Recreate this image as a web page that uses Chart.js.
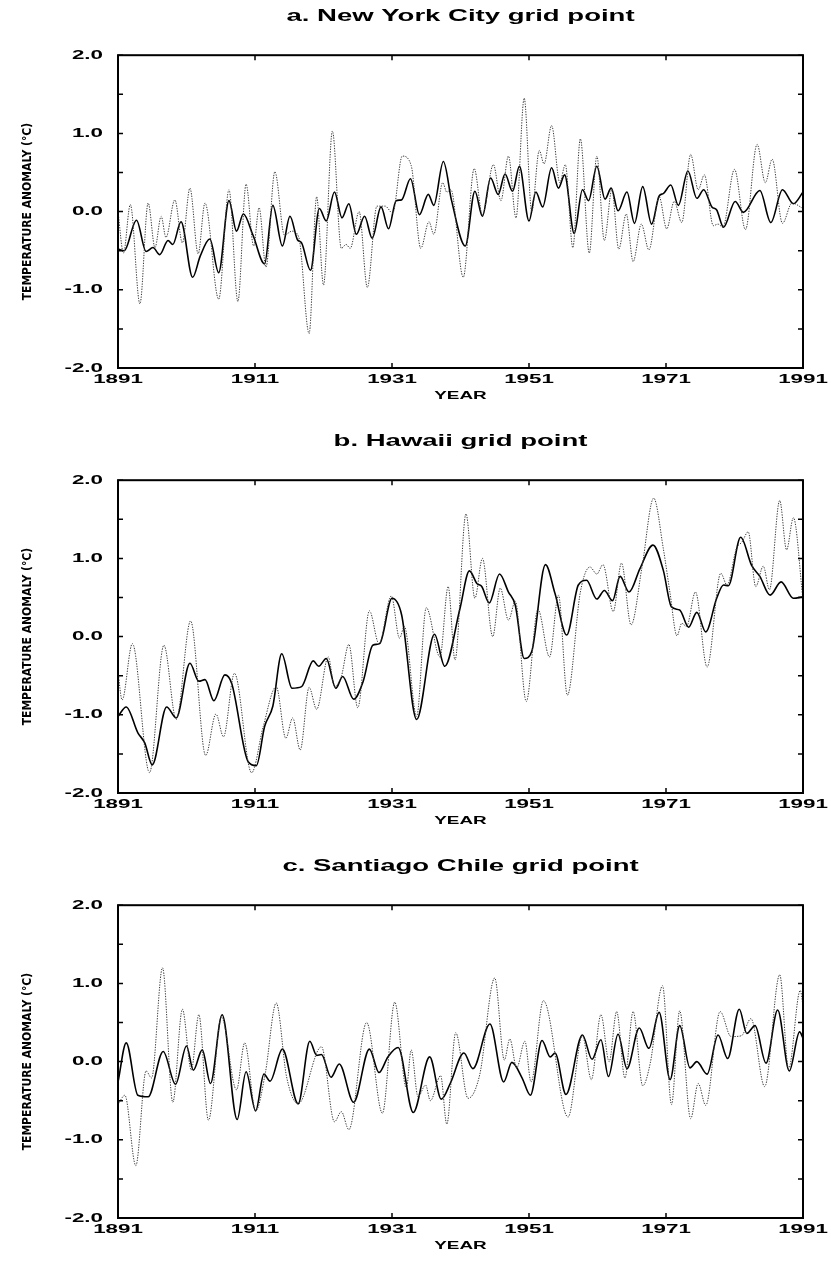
<!DOCTYPE html>
<html>
<head>
<meta charset="utf-8">
<title>Temperature anomaly grid points</title>
<script src="https://cdn.jsdelivr.net/npm/chart.js@4.4.1/dist/chart.umd.min.js"></script>
<style>
  html, body { margin: 0; padding: 0; background: #fff; overflow: hidden; }
  body { width: 831px; height: 1261px; position: relative; }
  .panel { position: absolute; left: 0; width: 831px; height: 425px; }
</style>
</head>
<body>
<div class="panel" style="top:0"><canvas id="chart-nyc" width="831" height="425"></canvas></div>
<div class="panel" style="top:425px"><canvas id="chart-hawaii" width="831" height="425"></canvas></div>
<div class="panel" style="top:850px"><canvas id="chart-santiago" width="831" height="425"></canvas></div>
<script>
// Axis ticks
const xTicks = [1891, 1911, 1931, 1951, 1971, 1991]
const yTicks = [-2, -1.5, -1, -0.5, 0, 0.5, 1, 1.5, 2]

// a. New York City - solid curve (turning points)
const nycSolidYears = [1891, 1891.9, 1893.7, 1895.1, 1896.1, 1897.1, 1898.3, 1899, 1900.2, 1901.9, 1903, 1904.4, 1905.7, 1907.2, 1908.3, 1909.3, 1910.7, 1912.4, 1913.6, 1915, 1916.1, 1917.2, 1917.8, 1919.1, 1920.4, 1921.4, 1922.6, 1923.7, 1924.7, 1925.8, 1927, 1928.1, 1929.4, 1930.5, 1931.6, 1932.4, 1933.7, 1935, 1936.3, 1937.1, 1938.5, 1939.7, 1941.7, 1943.1, 1944.2, 1945.4, 1946.5, 1947.5, 1948.6, 1949.6, 1951, 1952, 1953, 1954.3, 1955.3, 1956.2, 1957.6, 1958.8, 1959.7, 1960.9, 1962.1, 1963, 1964, 1965.3, 1966.4, 1967.6, 1968.9, 1970, 1970.6, 1971.7, 1972.8, 1974.2, 1975.5, 1976.5, 1977.7, 1978.4, 1979.4, 1981.1, 1982.3, 1984.7, 1986.3, 1988, 1989.6, 1991]
const nycSolidVals = [-0.48, -0.5, -0.11, -0.51, -0.46, -0.55, -0.37, -0.42, -0.13, -0.84, -0.57, -0.35, -0.78, 0.14, -0.25, -0.03, -0.3, -0.67, 0.08, -0.44, -0.06, -0.36, -0.4, -0.75, 0.04, -0.12, 0.25, -0.08, 0.1, -0.29, -0.06, -0.34, 0.06, -0.22, 0.14, 0.15, 0.42, -0.04, 0.22, 0.08, 0.64, 0.14, -0.44, 0.26, -0.06, 0.43, 0.22, 0.48, 0.26, 0.58, -0.12, 0.25, 0.06, 0.56, 0.3, 0.47, -0.28, 0.28, 0.14, 0.58, 0.16, 0.3, 0.01, 0.25, -0.15, 0.32, -0.16, 0.2, 0.23, 0.34, 0.08, 0.52, 0.17, 0.28, 0.06, 0.02, -0.2, 0.13, -0.01, 0.27, -0.14, 0.28, 0.1, 0.25]
// a. New York City - dotted curve
const nycDottedYears = [1891, 1891.8, 1892.8, 1894.2, 1895.4, 1896.4, 1897.3, 1898, 1899.3, 1900.4, 1901.5, 1902.7, 1903.7, 1905.7, 1907.2, 1908.5, 1909.7, 1910.8, 1911.6, 1912.6, 1913.9, 1915.3, 1916.4, 1917.4, 1918.9, 1920, 1921, 1922.3, 1923.6, 1924.3, 1924.9, 1926.2, 1927.4, 1928.8, 1930, 1931.1, 1932.5, 1933.8, 1935.2, 1936.4, 1937.1, 1938.4, 1939, 1939.6, 1941.4, 1943, 1944.2, 1945.8, 1946.9, 1948, 1949.1, 1950.3, 1951.4, 1952.5, 1953.2, 1954.3, 1955.5, 1956.3, 1957.4, 1958.5, 1959.8, 1960.9, 1962, 1963.1, 1964.1, 1965.2, 1966.2, 1967.4, 1968.5, 1970, 1971.1, 1972.2, 1973.3, 1974.6, 1975.7, 1976.6, 1977.9, 1978.6, 1979.3, 1981, 1982.6, 1984.3, 1985.5, 1986.5, 1988, 1989.4, 1991]
const nycDottedVals = [0.0, -0.53, 0.09, -1.18, 0.11, -0.46, -0.06, -0.33, 0.15, -0.4, 0.3, -0.54, 0.11, -1.12, 0.28, -1.15, 0.35, -0.44, 0.05, -0.71, 0.51, -0.3, -0.25, -0.33, -1.56, 0.19, -0.94, 1.03, -0.47, -0.42, -0.47, 0.0, -0.97, 0.07, 0.07, -0.02, 0.71, 0.59, -0.47, -0.13, -0.29, 0.37, 0.25, 0.28, -0.84, 0.55, -0.04, 0.6, 0.14, 0.71, -0.08, 1.45, 0.0, 0.78, 0.61, 1.1, 0.37, 0.6, -0.46, 0.93, -0.53, 0.71, -0.37, 0.28, -0.48, -0.03, -0.64, -0.16, -0.49, 0.19, -0.22, 0.13, -0.14, 0.73, 0.28, 0.47, -0.18, -0.16, -0.2, 0.54, -0.23, 0.86, 0.37, 0.67, -0.15, 0.11, 0.04]

// b. Hawaii - solid curve
const hawaiiSolidYears = [1891, 1892.2, 1893.9, 1894.9, 1896, 1898.1, 1899.5, 1901.5, 1902.8, 1903.7, 1905, 1906.6, 1907.6, 1910, 1911.2, 1912.4, 1913.6, 1914.9, 1916.4, 1917.8, 1919.5, 1920.3, 1921.4, 1922.8, 1923.8, 1925.4, 1926.8, 1928.2, 1929.2, 1931, 1932.4, 1934.6, 1937.2, 1938.7, 1940.9, 1942.3, 1943.4, 1944.1, 1945.2, 1946.7, 1948, 1949, 1950.3, 1951.4, 1953.4, 1954.8, 1956.5, 1958.2, 1959.4, 1960.9, 1962, 1963.2, 1964.3, 1965.6, 1967.2, 1969.1, 1970.6, 1971.8, 1973, 1974.3, 1975.5, 1976.8, 1978.4, 1979.4, 1980.1, 1981.9, 1983.5, 1984.7, 1986.2, 1987.8, 1989.6, 1991]
const hawaiiSolidVals = [-1.02, -0.9, -1.23, -1.36, -1.64, -0.9, -1.04, -0.34, -0.57, -0.55, -0.82, -0.49, -0.6, -1.6, -1.65, -1.15, -0.89, -0.22, -0.66, -0.64, -0.31, -0.38, -0.28, -0.66, -0.51, -0.8, -0.57, -0.11, -0.09, 0.49, 0.28, -1.06, 0.03, -0.38, 0.35, 0.84, 0.68, 0.64, 0.43, 0.8, 0.57, 0.4, -0.28, -0.19, 0.92, 0.55, 0.02, 0.66, 0.72, 0.48, 0.59, 0.46, 0.77, 0.57, 0.87, 1.17, 0.85, 0.38, 0.34, 0.12, 0.31, 0.06, 0.49, 0.66, 0.65, 1.27, 0.91, 0.77, 0.53, 0.7, 0.49, 0.51]
// b. Hawaii - dotted curve
const hawaiiDottedYears = [1891, 1891.6, 1893.1, 1895.6, 1897.7, 1899.5, 1901.6, 1903.8, 1905.3, 1906.4, 1908, 1910.5, 1912.2, 1914.1, 1915.5, 1916.5, 1917.6, 1918.9, 1920, 1921.7, 1922.6, 1923.6, 1924.7, 1926, 1927.7, 1929.1, 1930.9, 1932.1, 1932.8, 1934.6, 1936, 1938, 1939.2, 1940.2, 1941.8, 1943.1, 1944.2, 1945.7, 1946.8, 1948, 1949, 1950.6, 1952.3, 1954, 1955.3, 1956.6, 1958.5, 1959.9, 1960.9, 1961.8, 1963.3, 1964.5, 1965.9, 1967.5, 1969.2, 1970.6, 1971.6, 1972.6, 1973.3, 1974, 1975.3, 1977, 1979, 1979.9, 1981.3, 1982.1, 1983, 1984.1, 1985.2, 1986.1, 1987.6, 1988.6, 1989.6, 1991]
const hawaiiDottedVals = [-0.45, -0.81, -0.09, -1.74, -0.11, -1.06, 0.2, -1.52, -0.99, -1.28, -0.47, -1.74, -1.15, -0.64, -1.3, -1.04, -1.45, -0.65, -0.93, -0.26, -0.64, -0.51, -0.1, -0.91, 0.33, -0.09, 0.52, -0.02, 0.13, -1.02, 0.37, -0.26, 0.64, -0.3, 1.57, 0.49, 1.0, 0.0, 0.62, 0.21, 0.45, -0.83, 0.35, -0.26, 0.53, -0.75, 0.57, 0.89, 0.8, 0.92, 0.32, 0.94, 0.15, 0.89, 1.77, 1.13, 0.55, 0.01, 0.17, 0.13, 0.57, -0.39, 0.81, 0.66, 1.13, 1.21, 1.34, 0.64, 0.9, 0.6, 1.74, 1.11, 1.52, 0.47]

// c. Santiago Chile - solid curve
const santiagoSolidYears = [1891, 1892.2, 1893.9, 1895.4, 1897.6, 1899.4, 1901, 1902, 1903.3, 1904.5, 1906.2, 1908.4, 1909.7, 1911.1, 1912.3, 1913.2, 1915, 1917.3, 1919, 1920, 1920.7, 1922.1, 1923.3, 1925.4, 1927.7, 1929.1, 1930.4, 1931.9, 1934.1, 1936.5, 1938.2, 1939.5, 1941.5, 1942.8, 1945.3, 1947.3, 1948.5, 1950, 1951.2, 1952.9, 1954.1, 1954.8, 1956.4, 1958.8, 1960.2, 1961.5, 1962.6, 1964, 1965.3, 1967.1, 1968.5, 1970, 1971.6, 1973, 1974.5, 1975.5, 1977, 1978.6, 1980, 1981.7, 1982.8, 1984, 1985.6, 1987.3, 1989, 1990.5, 1991]
const santiagoSolidVals = [-0.26, 0.24, -0.43, -0.45, 0.13, -0.29, 0.2, -0.11, 0.15, -0.28, 0.6, -0.74, -0.13, -0.63, -0.16, -0.25, 0.16, -0.54, 0.26, 0.08, 0.09, -0.2, -0.03, -0.52, 0.16, -0.14, 0.06, 0.18, -0.65, 0.06, -0.48, -0.28, 0.11, -0.09, 0.48, -0.26, -0.01, -0.21, -0.43, 0.27, 0.06, 0.11, -0.42, 0.34, 0.03, 0.28, -0.19, 0.35, -0.09, 0.43, 0.17, 0.63, -0.23, 0.46, -0.08, 0.0, -0.16, 0.34, 0.04, 0.67, 0.36, 0.46, -0.02, 0.66, -0.12, 0.38, 0.3]
// c. Santiago Chile - dotted curve
const santiagoDottedYears = [1891, 1892, 1893.6, 1895.1, 1895.9, 1897.5, 1899, 1900.4, 1901.7, 1902.8, 1904.2, 1906.1, 1908.3, 1909.5, 1911.1, 1912.5, 1914.1, 1915.6, 1917.3, 1920.7, 1922.6, 1923.6, 1924.7, 1927.3, 1929.6, 1931.4, 1933.1, 1933.8, 1934.8, 1935.9, 1936.6, 1938.1, 1939, 1940.3, 1942.1, 1943.8, 1946, 1947.4, 1948.2, 1949.2, 1950.4, 1951.3, 1953.1, 1956.7, 1958.8, 1960.1, 1961.5, 1962.7, 1963.8, 1965, 1966.2, 1967.6, 1968.7, 1970.5, 1971.8, 1973, 1974.6, 1975.7, 1976.8, 1978.9, 1980.5, 1982, 1983.4, 1985.4, 1987.6, 1988.9, 1990.6, 1991]
const santiagoDottedVals = [-0.55, -0.43, -1.33, -0.12, -0.21, 1.2, -0.52, 0.67, -0.11, 0.6, -0.75, 0.57, -0.36, 0.24, -0.63, -0.15, 0.75, -0.19, -0.54, 0.19, -0.77, -0.64, -0.87, 0.5, -0.66, 0.76, -0.34, 0.15, -0.45, -0.3, -0.5, -0.18, -0.8, 0.37, -0.47, -0.17, 1.07, 0.02, 0.29, -0.08, 0.26, -0.26, 0.78, -0.71, 0.33, -0.23, 0.6, 0.0, 0.64, -0.21, 0.64, -0.31, -0.02, 0.97, -0.55, 0.65, -0.73, -0.28, -0.56, 0.64, 0.32, 0.33, 0.55, -0.32, 1.11, -0.09, 0.91, 0.72]

const panels = [
  { id: 'chart-nyc', title: 'a. New York City grid point', solid: [nycSolidYears, nycSolidVals], dotted: [nycDottedYears, nycDottedVals] },
  { id: 'chart-hawaii', title: 'b. Hawaii grid point', solid: [hawaiiSolidYears, hawaiiSolidVals], dotted: [hawaiiDottedYears, hawaiiDottedVals] },
  { id: 'chart-santiago', title: 'c. Santiago Chile grid point', solid: [santiagoSolidYears, santiagoSolidVals], dotted: [santiagoDottedYears, santiagoDottedVals] }
]

const FONT = "'Liberation Sans', Arial, Helvetica, sans-serif"
const NARROW = "'Liberation Sans Narrow', 'DejaVu Sans Condensed', 'Liberation Sans', sans-serif"
// horizontal text in the original is drawn wide, like a stretched plot
const TEXT_STRETCH = 1.72

const toPoints = ([xs, ys]) => xs.map((x, i) => ({ x, y: ys[i] }))

// widen horizontal labels around their anchor point (rotated text left alone)
const wideText = {
  id: 'wideText',
  beforeInit(chart) {
    const ctx = chart.ctx
    const fill = ctx.fillText.bind(ctx)
    ctx.fillText = function (text, x, y) {
      const m = ctx.getTransform()
      if (Math.abs(m.b) > 1e-6) return fill(text, x, y)
      ctx.save()
      ctx.translate(x, y)
      ctx.scale(TEXT_STRETCH, 1)
      fill(text, 0, 0)
      ctx.restore()
    }
  }
}

// frame box with inward tick marks, like the original plot
const frameTicks = {
  id: 'frameTicks',
  afterDatasetsDraw(chart) {
    const { ctx, chartArea: a } = chart
    const x = chart.scales.x
    const y = chart.scales.y
    ctx.save()
    ctx.strokeStyle = '#000'
    ctx.lineWidth = 1.5
    ctx.beginPath()
    yTicks.forEach(v => {
      const py = y.getPixelForValue(v)
      ctx.moveTo(a.left, py); ctx.lineTo(a.left + 5, py)
      ctx.moveTo(a.right, py); ctx.lineTo(a.right - 5, py)
    })
    xTicks.forEach(v => {
      const px = x.getPixelForValue(v)
      ctx.moveTo(px, a.top); ctx.lineTo(px, a.top + 5)
      ctx.moveTo(px, a.bottom); ctx.lineTo(px, a.bottom - 5)
    })
    ctx.stroke()
    ctx.lineWidth = 2
    ctx.strokeRect(a.left, a.top, a.right - a.left, a.bottom - a.top)
    ctx.restore()
  }
}

Chart.defaults.color = '#000'

panels.forEach(p => {
  new Chart(document.getElementById(p.id), {
    type: 'line',
    data: {
      datasets: [
        {
          label: 'dotted',
          data: toPoints(p.dotted),
          borderColor: '#3a3a3a',
          borderWidth: 1,
          borderDash: [1.3, 1.3],
          pointRadius: 0,
          cubicInterpolationMode: 'monotone'
        },
        {
          label: 'solid',
          data: toPoints(p.solid),
          borderColor: '#000',
          borderWidth: 1.6,
          pointRadius: 0,
          cubicInterpolationMode: 'monotone'
        }
      ]
    },
    options: {
      responsive: false,
      animation: false,
      devicePixelRatio: 1,
      layout: { padding: { top: 0, right: 28, bottom: 0, left: 0 } },
      plugins: {
        legend: { display: false },
        tooltip: { enabled: false },
        title: {
          display: true,
          text: p.title,
          fullSize: false,
          color: '#000',
          font: { family: FONT, size: 16, weight: 'bold' },
          padding: { top: 7, bottom: 29 }
        }
      },
      scales: {
        x: {
          type: 'linear',
          min: 1891,
          max: 1991,
          afterBuildTicks: s => { s.ticks = xTicks.map(value => ({ value })) },
          afterFit: s => { s.height = 57 },
          grid: { display: false, drawTicks: false },
          border: { display: false },
          ticks: {
            autoSkip: false,
            maxRotation: 0,
            padding: 4,
            color: '#000',
            font: { family: FONT, size: 13, weight: 'bold' },
            callback: v => String(v)
          },
          title: {
            display: true,
            text: 'YEAR',
            color: '#000',
            font: { family: FONT, size: 11, weight: 'bold' },
            padding: { top: 0, bottom: 22 }
          }
        },
        y: {
          min: -2,
          max: 2,
          afterBuildTicks: s => { s.ticks = yTicks.map(value => ({ value })) },
          afterFit: s => { s.width = 118 },
          grid: { display: false, drawTicks: false },
          border: { display: false },
          ticks: {
            autoSkip: false,
            padding: 15,
            color: '#000',
            font: { family: FONT, size: 13, weight: 'bold' },
            callback: v => Number.isInteger(v) ? v.toFixed(1) : ''
          },
          title: {
            display: true,
            text: 'TEMPERATURE ANOMALY (°C)',
            color: '#000',
            font: { family: NARROW, size: 12, weight: 'bold' },
            padding: { top: 21, bottom: 0 }
          }
        }
      }
    },
    plugins: [wideText, frameTicks]
  })
})
</script>
</body>
</html>
